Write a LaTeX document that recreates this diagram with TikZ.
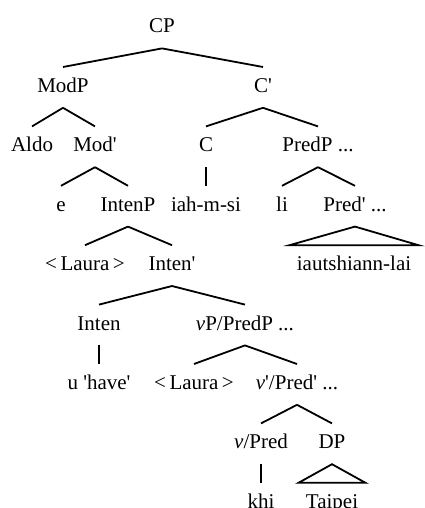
\documentclass[tikz,border=0pt]{standalone}
\usepackage{fontspec}
\setmainfont{Liberation Serif}[Ligatures=TeXOff]
\usetikzlibrary{positioning}

\begin{document}
\begin{tikzpicture}[x=1pt,y=1pt,
  every node/.style={font=\fontsize{10.5}{12}\selectfont,
    text height=8pt, text depth=3pt, inner xsep=3.5pt, inner ysep=4.5pt},
  branch/.style={line width=0.9pt}
]
\useasboundingbox (0,1) rectangle (212,-253);
% labels, row by row
\node (cp)     at (81,-13)     {CP};
\node (modp)   at (31.5,-42.7) {ModP};
\node (cbar)   at (131.5,-42.7) {C'};
\node (aldo)   at (16,-72.4)   {Aldo};
\node (modbar) at (47.5,-72.4) {Mod'};
\node (c)      at (103,-72.4)  {C};
\node (predp)  at (159,-72.4)  {PredP ...};
\node (e)      at (30.5,-102.1) {e};
\node (intenp) at (64,-102.1)  {IntenP};
\node (iah)    at (103,-102.1) {iah-m-si};
\node (li)     at (141,-102.1) {li};
\node (predbar) at (177.5,-102.1) {Pred' ...};
\node (laura)  at (42.5,-131.8) {<\,Laura\,>};
\node (intenbar) at (86,-131.8) {Inten'};
\node (iaut)   at (177,-131.8) {iautshiann-lai};
\node (inten)  at (49.5,-161.5) {Inten};
\node (vp)     at (122.5,-161.5) {\textit{v}P/PredP ...};
\node (have)   at (49.5,-191.2) {u 'have'};
\node (laurab) at (97,-191.2)  {<\,Laura\,>};
\node (vbar)   at (148.5,-191.2) {\textit{v}'/Pred' ...};
\node (vpred)  at (130.5,-220.9) {\textit{v}/Pred};
\node (dp)     at (166,-220.9) {DP};
\node (khi)    at (130.5,-250.6) {khi};
\node (taipei) at (166,-250.6) {Taipei};

% branches
\foreach \a/\b in {cp/modp, cp/cbar, modp/aldo, modp/modbar, cbar/c,
    cbar/predp, modbar/e, modbar/intenp, c/iah, predp/li, predp/predbar,
    intenp/laura, intenp/intenbar, intenbar/inten, intenbar/vp,
    inten/have, vp/laurab, vp/vbar, vbar/vpred, vbar/dp, vpred/khi}
  \draw[branch] (\a.south) -- (\b.north);

% roofs
\draw[branch] (predbar.south) -- (iaut.north west) -- (iaut.north east) -- cycle;
\draw[branch] (dp.south) -- (taipei.north west) -- (taipei.north east) -- cycle;
\end{tikzpicture}
\end{document}
